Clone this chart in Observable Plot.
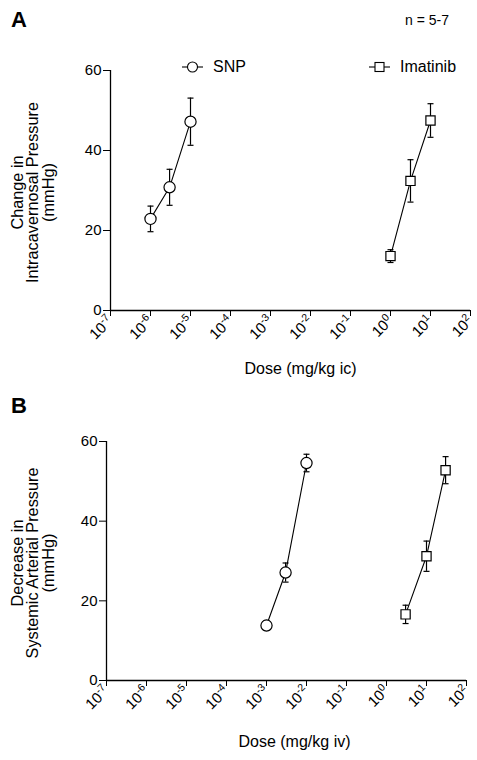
<!DOCTYPE html>
<html><head><meta charset="utf-8">
<script src="https://cdn.jsdelivr.net/npm/d3@7"></script>
<script src="https://cdn.jsdelivr.net/npm/@observablehq/plot@0.6"></script>
<style>
body{margin:0;background:#fff;font-family:"Liberation Sans",Arial,sans-serif;}
#wrap{position:relative;width:477px;height:760px;}
.lbl{position:absolute;color:#000;white-space:nowrap;}
.panel{position:absolute;left:0;}
.leg{position:absolute;display:flex;align-items:center;font-size:16px;}
</style></head>
<body><div id="wrap"></div>
<script>
// ---- data ----
const xTicks = [1e-7,1e-6,1e-5,1e-4,1e-3,1e-2,1e-1,1e0,1e1,1e2];
const yTicks = [0,20,40,60];
const seriesNames = ["SNP","Imatinib"];

// Panel A (intracavernosal, ic)
const aSnpDose = [1e-6, 3e-6, 1e-5];
const aSnpMean = [22.9, 30.8, 47.2];
const aSnpErr  = [3.2, 4.5, 5.9];
const aImaDose = [1, 3.16, 10];
const aImaMean = [13.6, 32.4, 47.5];
const aImaErr  = [1.6, 5.3, 4.2];

// Panel B (systemic arterial, iv)
const bSnpDose = [1e-3, 3e-3, 1e-2];
const bSnpMean = [13.8, 27.1, 54.6];
const bSnpErr  = [1.2, 2.4, 2.2];
const bImaDose = [3, 10, 30];
const bImaMean = [16.6, 31.2, 52.8];
const bImaErr  = [2.3, 3.8, 3.4];

const sup = {"-":"⁻","0":"⁰","1":"¹","2":"²","3":"³","4":"⁴","5":"⁵","6":"⁶","7":"⁷","8":"⁸","9":"⁹"};
const unsup = Object.fromEntries(Object.entries(sup).map(([k,v])=>[v,k]));
const fmt = d => "10" + String(Math.round(Math.log10(d))).split("").map(c => sup[c]).join("");

const capSymbol = {draw(ctx, size){ const r = Math.sqrt(size/Math.PI); ctx.moveTo(-r,0); ctx.lineTo(r,0); }};

function rows(dose, mean, err){ return dose.map((d,i)=>({dose:d, mean:mean[i], lo:mean[i]-err[i], hi:mean[i]+err[i]})); }

function panel(o){
  const snp = rows(o.snpDose,o.snpMean,o.snpErr);
  const ima = rows(o.imaDose,o.imaMean,o.imaErr);
  const errMarks = d => [
    Plot.ruleX(d,{x:"dose", y1:"lo", y2:"hi", stroke:"#000", strokeWidth:1.2}),
    Plot.dot(d,{x:"dose", y:"lo", symbol:capSymbol, r:3, stroke:"#000", strokeWidth:1.2}),
    Plot.dot(d,{x:"dose", y:"hi", symbol:capSymbol, r:3, stroke:"#000", strokeWidth:1.2})
  ];
  const svg = Plot.plot({
    width:477, height:380,
    marginLeft:o.ml, marginRight:o.mr, marginTop:o.mt, marginBottom:o.mb,
    style:{fontFamily:'"Liberation Sans",Arial,sans-serif', fontSize:"15px", color:"#000", background:"#fff"},
    x:{type:"log", domain:[1e-7,1e2]},
    y:{domain:[0,60]},
    marks:[
      Plot.axisY({ticks:yTicks, tickSize:7, tickPadding:2, label:null, fontSize:15}),
      Plot.axisX({ticks:xTicks, tickFormat:fmt, tickRotate:-45, tickSize:6, tickPadding:2, label:null, fontSize:15}),
      Plot.ruleY([0],{stroke:"#000", strokeWidth:1.3}),
      Plot.ruleX([1e-7],{stroke:"#000", strokeWidth:1.3}),
      Plot.text([o.yLabel],{frameAnchor:"left", rotate:-90, dx:o.ydx, dy:2, textAnchor:"middle", lineAnchor:"middle", lineHeight:0.95, fontSize:16.3, fill:"#000"}),
      Plot.text([o.xLabel],{frameAnchor:"bottom", dx:o.xdx, dy:o.xdy, fontSize:16, fill:"#000"}),
      ...errMarks(snp), ...errMarks(ima),
      Plot.line(snp,{x:"dose", y:"mean", stroke:"#000", strokeWidth:1.1}),
      Plot.line(ima,{x:"dose", y:"mean", stroke:"#000", strokeWidth:1.1}),
      Plot.dot(snp,{x:"dose", y:"mean", symbol:"circle", r:5.6, fill:"#fff", stroke:"#000", strokeWidth:1.2}),
      Plot.dot(ima,{x:"dose", y:"mean", symbol:"square", r:5.2, fill:"#fff", stroke:"#000", strokeWidth:1.2})
    ]
  });
  // render exponent as a raised, smaller tspan
  svg.querySelectorAll("text").forEach(t => {
    const s = t.textContent;
    if (/^10[⁻⁰¹²³⁴⁵⁶⁷⁸⁹]+$/.test(s)) {
      const exp = s.slice(2).split("").map(c => unsup[c]).join("");
      t.textContent = "";
      const ns = "http://www.w3.org/2000/svg";
      const a = document.createElementNS(ns,"tspan"); a.textContent = "10";
      const b = document.createElementNS(ns,"tspan"); b.textContent = exp;
      b.setAttribute("dy","-0.55em"); b.setAttribute("font-size","0.7em");
      t.appendChild(a); t.appendChild(b);
    }
  });
  return svg;
}

const wrap = document.getElementById("wrap");
const pA = panel({snpDose:aSnpDose,snpMean:aSnpMean,snpErr:aSnpErr,imaDose:aImaDose,imaMean:aImaMean,imaErr:aImaErr,
  yLabel:"Change in\nIntracavernosal Pressure\n(mmHg)", xLabel:"Dose (mg/kg ic)",
  ml:110, mr:7, mt:70, mb:70, ydx:-77, xdx:10, xdy:63});
const pB = panel({snpDose:bSnpDose,snpMean:bSnpMean,snpErr:bSnpErr,imaDose:bImaDose,imaMean:bImaMean,imaErr:bImaErr,
  yLabel:"Decrease in\nSystemic Arterial Pressure\n(mmHg)", xLabel:"Dose (mg/kg iv)",
  ml:106, mr:11, mt:61, mb:80, ydx:-73, xdx:8, xdy:66});
pA.classList.add("panel"); pA.style.top="0px";
pB.classList.add("panel"); pB.style.top="380px";
wrap.appendChild(pA); wrap.appendChild(pB);

function addLabel(text, left, top, css){
  const d = document.createElement("div"); d.className="lbl"; d.textContent=text;
  d.style.left=left+"px"; d.style.top=top+"px"; Object.assign(d.style, css||{});
  wrap.appendChild(d);
}
addLabel("A", 11, 7, {fontSize:"22px", fontWeight:"bold"});
addLabel("B", 11, 393, {fontSize:"22px", fontWeight:"bold"});
addLabel("n = 5-7", 405, 12, {fontSize:"14px"});

// legend
function legend(name, sym, left){
  const d = document.createElement("div"); d.className="leg";
  d.style.left=left+"px"; d.style.top="58px";
  const ns="http://www.w3.org/2000/svg";
  const s = document.createElementNS(ns,"svg"); s.setAttribute("width","22"); s.setAttribute("height","18");
  s.innerHTML = '<line x1="0" x2="21" y1="9" y2="9" stroke="#000" stroke-width="1.1"/>' +
    (sym==="circle" ? '<circle cx="10.5" cy="9" r="5" fill="#fff" stroke="#000" stroke-width="1.1"/>'
                    : '<rect x="6" y="4.5" width="9" height="9" fill="#fff" stroke="#000" stroke-width="1.1"/>');
  s.style.marginRight="9px";
  d.appendChild(s);
  const t = document.createElement("span"); t.textContent=name; d.appendChild(t);
  wrap.appendChild(d);
}
legend(seriesNames[0],"circle",182);
legend(seriesNames[1],"square",369);
</script></body></html>
